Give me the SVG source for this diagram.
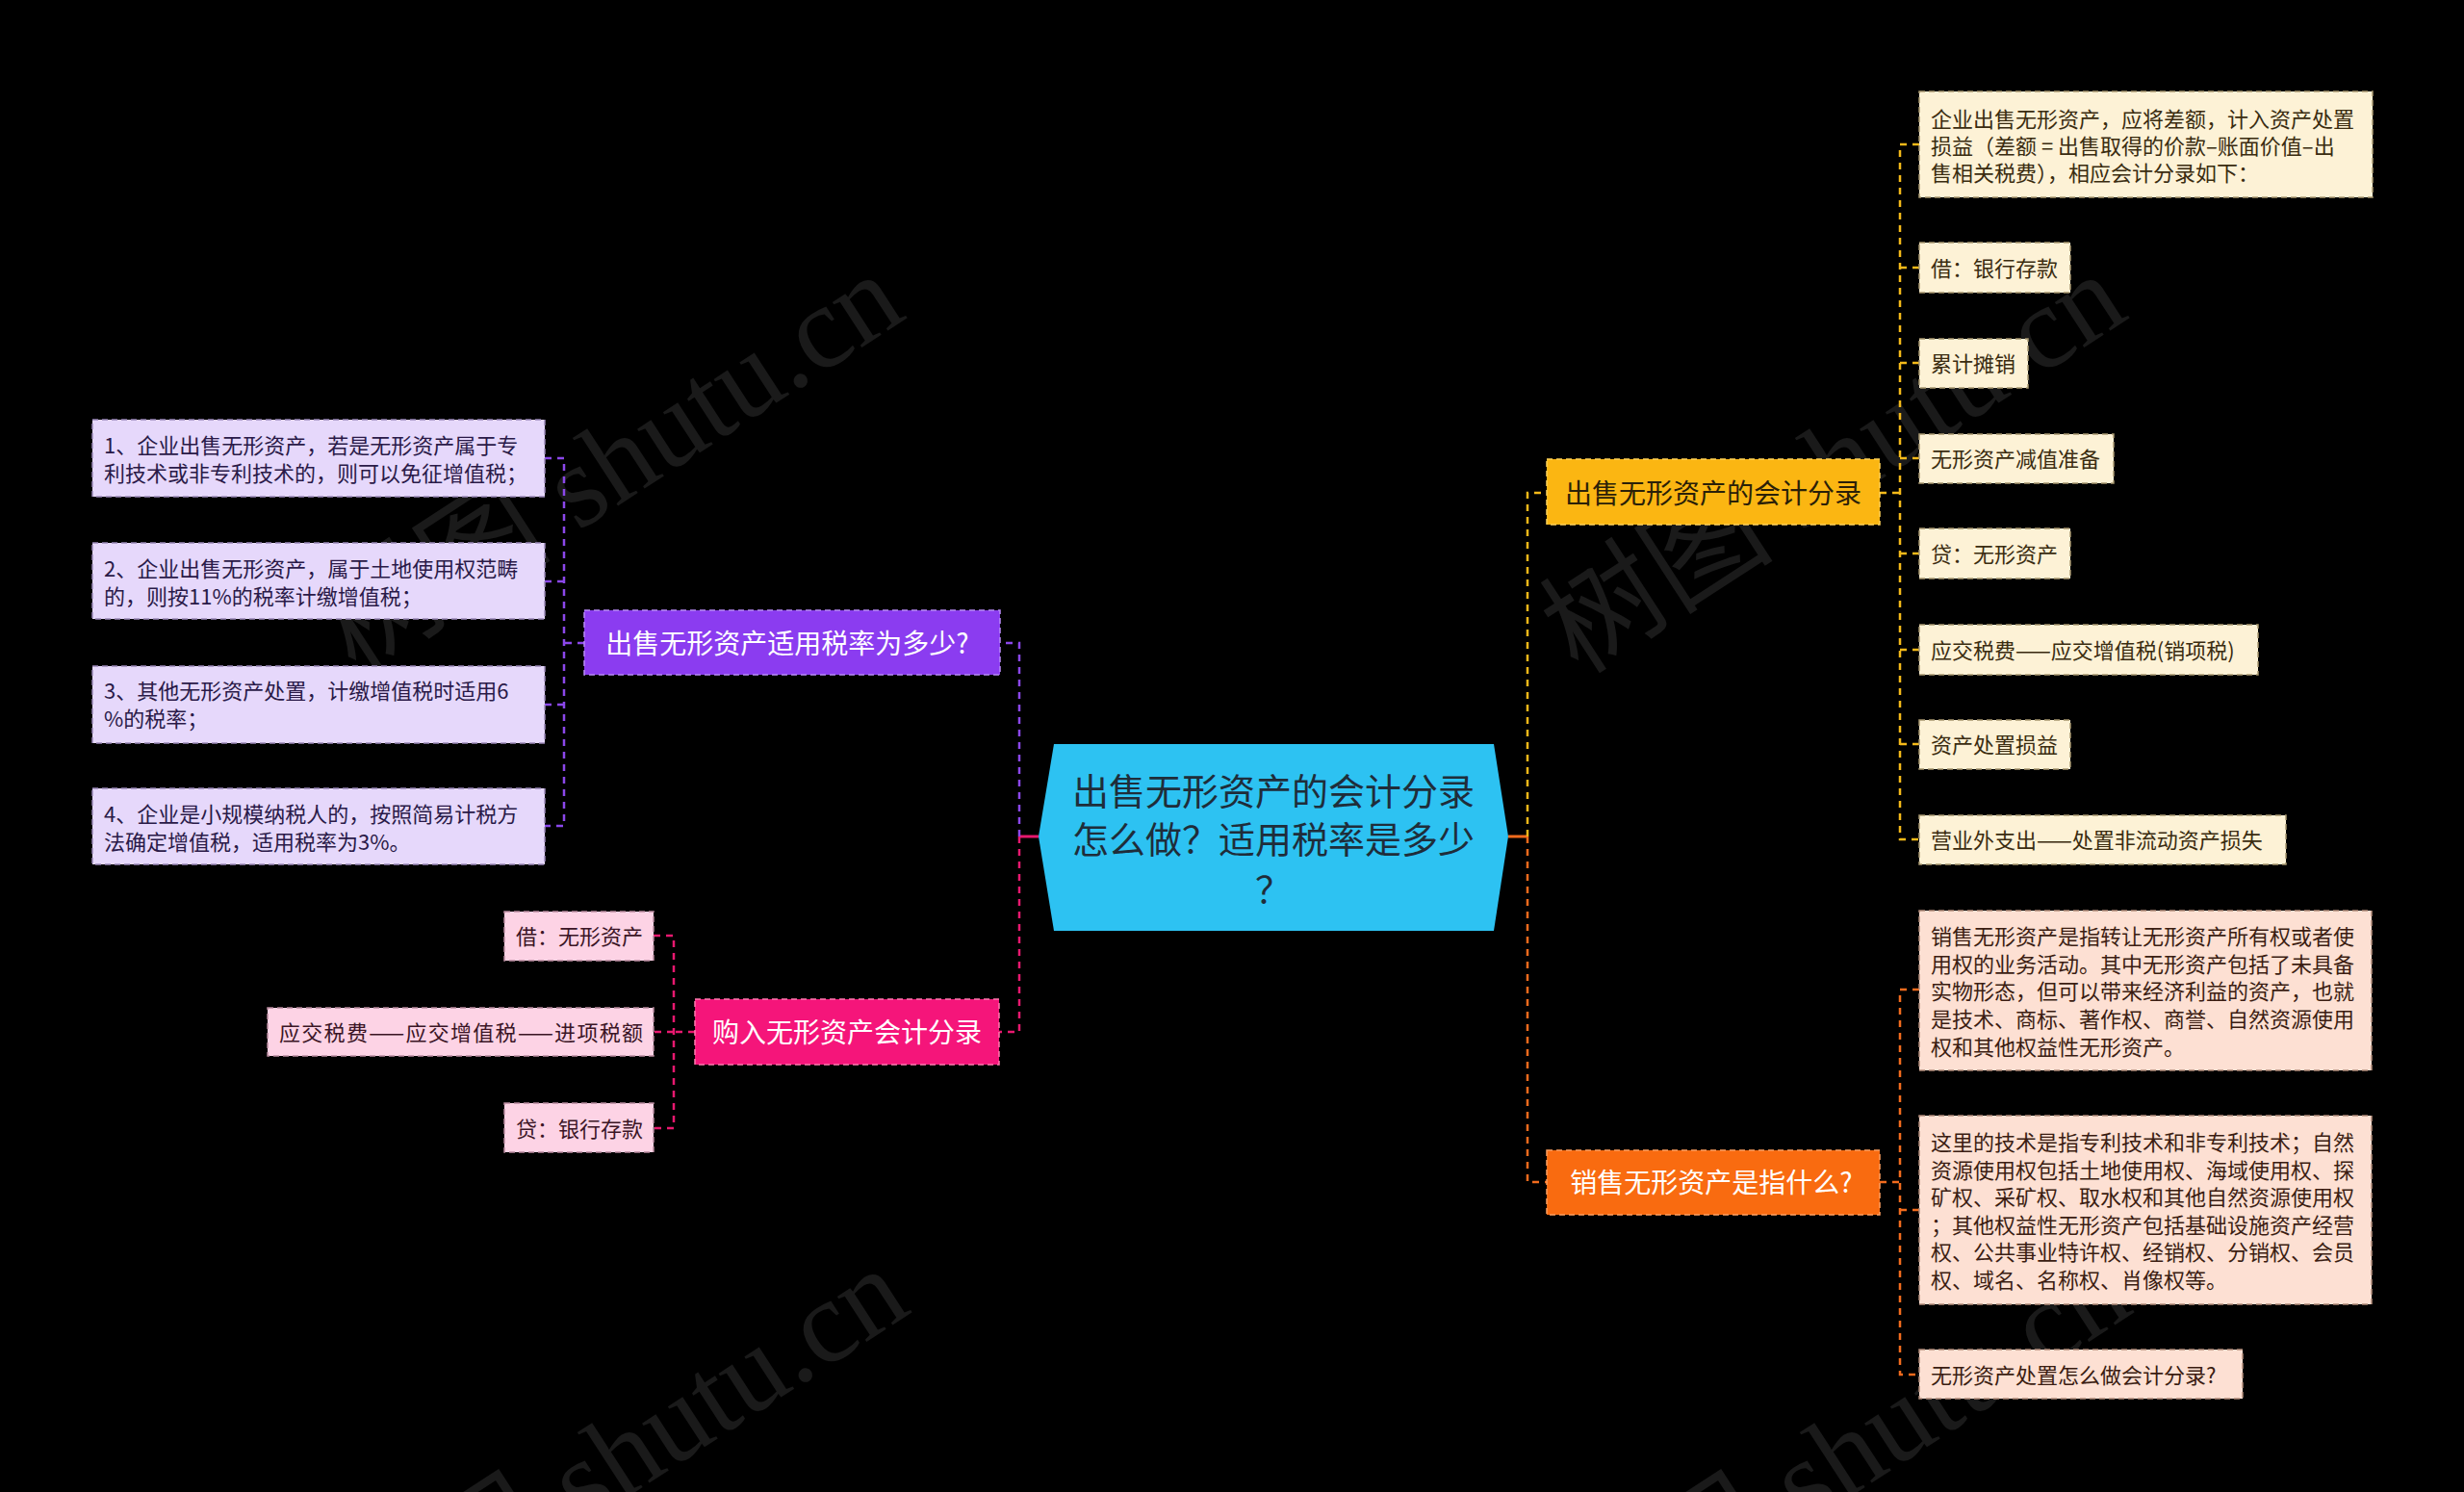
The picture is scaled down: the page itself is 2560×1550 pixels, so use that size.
<svg xmlns="http://www.w3.org/2000/svg" width="2560" height="1550" viewBox="0 0 2560 1550">
<style>
text{font-family:"Noto Sans CJK SC","Noto Sans",sans-serif;dominant-baseline:central}
.wm{font-family:"Liberation Serif","Noto Sans CJK SC",serif;font-size:122px;fill:#808080;fill-opacity:0.2;dominant-baseline:alphabetic}
.c{fill:none;stroke-width:2.5;stroke-dasharray:7 6}
.cs{fill:none;stroke-width:3}
.y{stroke:#f4b919}.o{stroke:#f26b1d}.p{stroke:#8b47ea}.k{stroke:#e8186f}
.br{stroke-width:1.5;stroke-dasharray:6 4}
.lf{stroke-width:1.5;stroke-dasharray:6 4}
.t22{font-size:22px}
.t28{font-size:28px}
.ly{fill:#fdf2d6;stroke:#a89870}.lyt{fill:#3a2c10}
.lo{fill:#fde0d3;stroke:#b08a7a}.lot{fill:#3b1d12}
.lp{fill:#e6d8fb;stroke:#9a88b8}.lpt{fill:#2a1a48}
.lk{fill:#fdd3e5;stroke:#b88a9e}.lkt{fill:#3b1526}
</style>
<rect width="2560" height="1550" fill="#000"/>
<g id="watermark">
<text class="wm" transform="translate(370,702) rotate(-33)">树图 shutu.cn</text>
<text class="wm" transform="translate(1640,702) rotate(-33)">树图 shutu.cn</text>
<text class="wm" transform="translate(375,1735) rotate(-33)">树图 shutu.cn</text>
<text class="wm" transform="translate(1645,1735) rotate(-33)">树图 shutu.cn</text>
</g>
<g id="connectors">
<path class="cs o" d="M1567,869 H1587"/>
<path class="c y" d="M1587,869 V512 H1607"/>
<path class="c o" d="M1587,869 V1228 H1607"/>
<path class="c y" d="M1953,512 H1974"/>
<path class="c y" d="M1994,150 H1974 V872 H1994 M1974,278 H1994 M1974,377 H1994 M1974,476 H1994 M1974,575 H1994 M1974,675 H1994 M1974,773 H1994"/>
<path class="c o" d="M1953,1228 H1974"/>
<path class="c o" d="M1994,1028 H1974 V1428 H1994 M1974,1257 H1994"/>
<path class="cs k" d="M1079,869 H1059"/>
<path class="c p" d="M1059,869 V668 H1039"/>
<path class="c k" d="M1059,869 V1072 H1038"/>
<path class="c p" d="M607,668 H586"/>
<path class="c p" d="M566,476 H586 V858 H566 M586,604 H566 M586,732 H566"/>
<path class="c k" d="M722,1072 H700"/>
<path class="c k" d="M679,972 H700 V1172 H679 M700,1072 H679"/>
</g>
<g id="center">
<polygon points="1095,773 1552,773 1567,869 1552,967 1095,967 1079,869" fill="#2dc2f2"/>
<text x="1323" y="819" font-size="38" fill="#1f2d3a" text-anchor="middle">出售无形资产的会计分录</text>
<text x="1323" y="869" font-size="38" fill="#1f2d3a" text-anchor="middle">怎么做？适用税率是多少</text>
<text x="1323" y="921" font-size="38" fill="#1f2d3a" text-anchor="middle">？</text>
</g>
<g id="branch-yellow">
<rect x="1607" y="477" width="346" height="68" fill="#fbb612" stroke="#ffd25a" class="br"/>
<text x="1780" y="511" class="t28" fill="#2a2008" text-anchor="middle">出售无形资产的会计分录</text>
</g>
<g id="branch-orange">
<rect x="1607" y="1195" width="346" height="67" fill="#f96b10" stroke="#ffa060" class="br"/>
<text x="1778" y="1227" class="t28" fill="#fff" text-anchor="middle">销售无形资产是指什么?</text>
</g>
<g id="branch-purple">
<rect x="607" y="634" width="432" height="67" fill="#8b3cf0" stroke="#b98bf7" class="br"/>
<text x="818" y="667" class="t28" fill="#fff" text-anchor="middle">出售无形资产适用税率为多少?</text>
</g>
<g id="branch-pink">
<rect x="722" y="1038" width="316" height="68" fill="#f5157a" stroke="#ff7ab0" class="br"/>
<text x="880" y="1071" class="t28" fill="#fff" text-anchor="middle">购入无形资产会计分录</text>
</g>
<g id="leaf-y1">
<rect x="1994" y="95" width="471" height="110" class="ly lf"/>
<text x="2006" y="122" class="t22 lyt">企业出售无形资产，应将差额，计入资产处置</text>
<text x="2006" y="150" class="t22 lyt">损益（差额 = 出售取得的价款–账面价值–出</text>
<text x="2006" y="178" class="t22 lyt">售相关税费），相应会计分录如下：</text>
</g>
<g id="leaf-y2"><rect x="1994" y="252" width="157" height="52" class="ly lf"/><text x="2006" y="277" class="t22 lyt">借：银行存款</text></g>
<g id="leaf-y3"><rect x="1994" y="352" width="113" height="51" class="ly lf"/><text x="2006" y="376" class="t22 lyt">累计摊销</text></g>
<g id="leaf-y4"><rect x="1994" y="451" width="202" height="51" class="ly lf"/><text x="2006" y="475" class="t22 lyt">无形资产减值准备</text></g>
<g id="leaf-y5"><rect x="1994" y="549" width="157" height="52" class="ly lf"/><text x="2006" y="574" class="t22 lyt">贷：无形资产</text></g>
<g id="leaf-y6"><rect x="1994" y="649" width="352" height="52" class="ly lf"/><text x="2006" y="674" class="t22 lyt">应交税费——应交增值税(销项税)</text></g>
<g id="leaf-y7"><rect x="1994" y="748" width="157" height="51" class="ly lf"/><text x="2006" y="772" class="t22 lyt">资产处置损益</text></g>
<g id="leaf-y8"><rect x="1994" y="847" width="381" height="51" class="ly lf"/><text x="2006" y="871" class="t22 lyt">营业外支出——处置非流动资产损失</text></g>
<g id="leaf-o1">
<rect x="1994" y="946" width="470" height="166" class="lo lf"/>
<text x="2006" y="971" class="t22 lot">销售无形资产是指转让无形资产所有权或者使</text>
<text x="2006" y="1000" class="t22 lot">用权的业务活动。其中无形资产包括了未具备</text>
<text x="2006" y="1028" class="t22 lot">实物形态，但可以带来经济利益的资产，也就</text>
<text x="2006" y="1057" class="t22 lot">是技术、商标、著作权、商誉、自然资源使用</text>
<text x="2006" y="1086" class="t22 lot">权和其他权益性无形资产。</text>
</g>
<g id="leaf-o2">
<rect x="1994" y="1159" width="470" height="196" class="lo lf"/>
<text x="2006" y="1185" class="t22 lot">这里的技术是指专利技术和非专利技术；自然</text>
<text x="2006" y="1214" class="t22 lot">资源使用权包括土地使用权、海域使用权、探</text>
<text x="2006" y="1242" class="t22 lot">矿权、采矿权、取水权和其他自然资源使用权</text>
<text x="2006" y="1271" class="t22 lot">；其他权益性无形资产包括基础设施资产经营</text>
<text x="2006" y="1299" class="t22 lot">权、公共事业特许权、经销权、分销权、会员</text>
<text x="2006" y="1328" class="t22 lot">权、域名、名称权、肖像权等。</text>
</g>
<g id="leaf-o3"><rect x="1994" y="1402" width="336" height="51" class="lo lf"/><text x="2006" y="1427" class="t22 lot">无形资产处置怎么做会计分录?</text></g>
<g id="leaf-p1">
<rect x="96" y="436" width="470" height="80" class="lp lf"/>
<text x="108" y="461" class="t22 lpt">1、企业出售无形资产，若是无形资产属于专</text>
<text x="108" y="490" class="t22 lpt">利技术或非专利技术的，则可以免征增值税；</text>
</g>
<g id="leaf-p2">
<rect x="96" y="564" width="470" height="79" class="lp lf"/>
<text x="108" y="589" class="t22 lpt">2、企业出售无形资产，属于土地使用权范畴</text>
<text x="108" y="618" class="t22 lpt">的，则按11%的税率计缴增值税；</text>
</g>
<g id="leaf-p3">
<rect x="96" y="692" width="470" height="80" class="lp lf"/>
<text x="108" y="716" class="t22 lpt">3、其他无形资产处置，计缴增值税时适用6</text>
<text x="108" y="745" class="t22 lpt">%的税率；</text>
</g>
<g id="leaf-p4">
<rect x="96" y="819" width="470" height="79" class="lp lf"/>
<text x="108" y="844" class="t22 lpt">4、企业是小规模纳税人的，按照简易计税方</text>
<text x="108" y="873" class="t22 lpt">法确定增值税，适用税率为3%。</text>
</g>
<g id="leaf-k1"><rect x="524" y="947" width="155" height="51" class="lk lf"/><text x="536" y="971" class="t22 lkt">借：无形资产</text></g>
<g id="leaf-k2"><rect x="278" y="1047" width="401" height="50" class="lk lf"/><text x="290" y="1071" class="t22 lkt" textLength="378">应交税费——应交增值税——进项税额</text></g>
<g id="leaf-k3"><rect x="524" y="1146" width="155" height="51" class="lk lf"/><text x="536" y="1171" class="t22 lkt">贷：银行存款</text></g>
</svg>
